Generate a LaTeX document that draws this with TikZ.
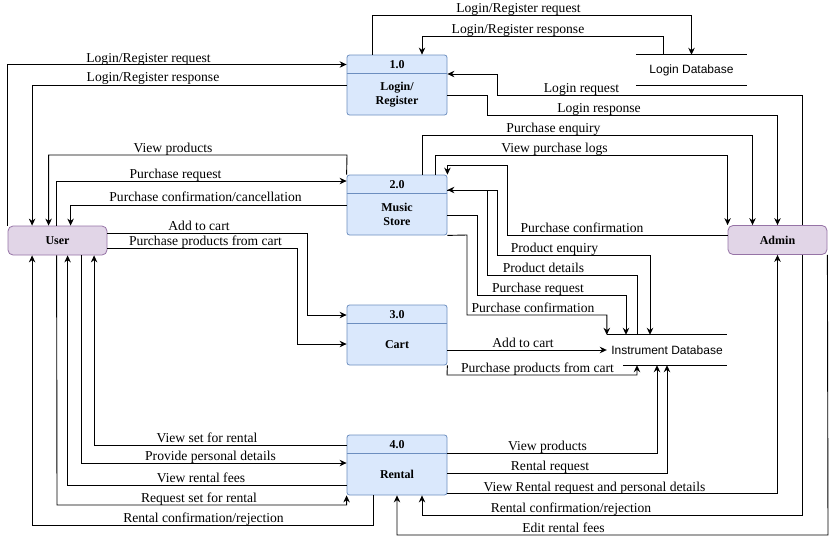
\documentclass[tikz,border=0pt]{standalone}
\usepackage{fontspec}
\setmainfont{Liberation Serif}
\newfontfamily\dbfont{Liberation Sans}
\usetikzlibrary{arrows.meta}

\definecolor{procfill}{HTML}{DAE8FC}
\definecolor{procline}{HTML}{6C8EBF}
\definecolor{extfill}{HTML}{E1D5E7}
\definecolor{extline}{HTML}{9673A6}

\begin{document}
\begin{tikzpicture}[x=1pt,y=-1pt]
	% Define styles for processes, entities, stores, flows and labels
	\tikzset{
		proc/.style={draw=procline, fill=procfill, rounded corners=2.5pt, minimum width=100pt, minimum height=60pt, inner sep=0pt, line width=0.8pt},
		ptitle/.style={font=\fontsize{12}{14}\selectfont\bfseries, inner sep=0pt},
		ptext/.style={font=\fontsize{12}{14}\selectfont\bfseries, align=center, inner sep=0pt},
		ext/.style={draw=extline, fill=extfill, rounded corners=5pt, minimum width=99pt, minimum height=29pt, inner sep=0pt, line width=0.8pt, font=\fontsize{12}{14}\selectfont\bfseries},
		store/.style={minimum height=30pt, inner sep=0pt, font=\dbfont\fontsize{12}{14}\selectfont},
		flow/.style={-{Stealth[length=7pt,width=6.5pt]}, line width=0.9pt},
		lab/.style={anchor=base, inner sep=0.5pt, font=\fontsize{13.6}{15}\selectfont}
	}
	\useasboundingbox (0,0) rectangle (836,544);
	
	% Draw the processes
	\node[proc] (p1) at (397,85) {};
	\node[proc] (p2) at (397,205) {};
	\node[proc] (p3) at (397,335) {};
	\node[proc] (p4) at (397,465) {};
	\foreach \p in {p1,p2,p3,p4}
		\draw[procline, line width=0.8pt] ([yshift=-19pt]\p.north west) -- ([yshift=-19pt]\p.north east);
	\node[ptitle] (p1t) at (397,64.5) {1.0};
	\node[ptitle] (p2t) at (397,184.5) {2.0};
	\node[ptitle] (p3t) at (397,314.5) {3.0};
	\node[ptitle] (p4t) at (397,444.5) {4.0};
	\node[ptext] (p1x) at (397,94.5) {Login/\\Register};
	\node[ptext] (p2x) at (397,214.5) {Music\\Store};
	\node[ptext] (p3x) at (397,344.5) {Cart};
	\node[ptext] (p4x) at (397,474.5) {Rental};
	
	% Draw the external entities
	\node[ext] (user) at (57.5,240.5) {User};
	\node[ext] (admin) at (777.5,240) {Admin};
	
	% Draw the data stores
	\node[store, minimum width=111pt] (ldb) at (691.5,70) {Login Database};
	\node[store, minimum width=120pt] (idb) at (667,350) {Instrument Database};
	\draw[line width=0.9pt] (ldb.north west) -- (ldb.north east) (ldb.south west) -- (ldb.south east);
	\draw[line width=0.9pt] (idb.north west) -- (idb.north east) ([xshift=16pt]idb.south west) -- (idb.south east);
	
	% Flows between login and login database
	\draw[flow] ([xshift=-25pt]p1.north) -- (372,15) -| (ldb.north);
	\draw[flow] ([xshift=-28.5pt]ldb.north) -- (663,36) -| ([xshift=25pt]p1.north);
	
	% Flows from and to the user (top and right)
	\draw[flow] (user.north west) |- (p1t -| p1.west);
	\draw[flow] (p1.west) -| ([xshift=24.5pt]user.north west);
	\draw[flow] (p2.north west) -- (347,155) -| ([xshift=41pt]user.north west);
	\draw[flow] ([xshift=49pt]user.north west) |- ([yshift=24pt]p2.west);
	\draw[flow] (p2.west) -| ([xshift=63pt]user.north west);
	\draw[flow] ([yshift=7.5pt]user.east) -- (307,233) |- ([yshift=20pt]p3.west);
	\draw[flow] ([yshift=-7.5pt]user.east) -- (297,248) |- ([yshift=-9pt]p3.west);
	
	% Flows from and to the user (bottom)
	\draw[flow] ([yshift=20pt]p4.west) -| ([xshift=86.5pt]user.south west);
	\draw[flow] ([xshift=74pt]user.south west) |- ([yshift=2pt]p4.west);
	\draw[flow] ([yshift=-20pt]p4.west) -| ([xshift=60pt]user.south west);
	\draw[flow] ([xshift=49pt]user.south west) -- (57,505) -| (p4.south west);
	\draw[flow] ([xshift=-24pt]p4.south) -- (373,525) -| ([xshift=24.5pt]user.south west);
	
	% Flows from and to the admin
	\draw[flow] ([xshift=25pt]admin.north) |- (497,95) |- ([yshift=11pt]p1.east);
	\draw[flow] ([yshift=-10pt]p1.east) -- (487,95) -- (487,115) -| (admin.north);
	\draw[flow] ([xshift=25pt]p2.north) -- (422,135) -| ([xshift=-25pt]admin.north);
	\draw[flow] ([xshift=38pt]p2.north) -- (435,155) -| (admin.north west);
	\draw[flow] ([yshift=5pt]admin.west) -| (507,165) -| (p2.north east);
	\draw[flow] ([yshift=-28pt]p4.east) -| (admin.south);
	\draw[flow] ([xshift=25pt]admin.south) -- (802.5,515) -| ([xshift=25pt]p4.south);
	\draw[flow] (admin.south east) -- (828,535) -| (p4.south);
	
	% Flows from and to the instrument database
	\draw[flow] ([yshift=15pt]p2.east) -- (497,190) |- (650,255) -- ([xshift=-17pt]idb.north);
	\draw[flow] ([xshift=-30pt]idb.north) |- (487,275) |- ([yshift=15pt]p2.east);
	\draw[flow] ([yshift=-10pt]p2.east) -- (477,215) -- (477,295) -| ([xshift=-41pt]idb.north);
	\draw[flow] (p2.south east) -- (467,235) -- (467,315) -| (idb.north west);
	\draw[flow] ([yshift=-15pt]p3.east) -- (idb.west);
	\draw[flow] (p3.south east) -- (447,375) -| ([xshift=-30pt]idb.south);
	\draw[flow] ([yshift=12pt]p4.east) -| ([xshift=-10pt]idb.south);
	\draw[flow] ([yshift=-8pt]p4.east) -| (idb.south);
	
	% Add labels
	\node[lab] (t1) at (518.5,12) {Login/Register request};
	\node[lab] (t2) at (518,33) {Login/Register response};
	\node[lab] (t3) at (148.5,62) {Login/Register request};
	\node[lab] (t4) at (153,81) {Login/Register response};
	\node[lab] (t5) at (173,152) {View products};
	\node[lab] (t6) at (175.5,178) {Purchase request};
	\node[lab] (t7) at (205.5,201) {Purchase confirmation/cancellation};
	\node[lab] (t8) at (199,230) {Add to cart};
	\node[lab] (t9) at (205.5,245) {Purchase products from cart};
	\node[lab] (t10) at (207,442) {View set for rental};
	\node[lab] (t11) at (210.5,460) {Provide personal details};
	\node[lab] (t12) at (201,482) {View rental fees};
	\node[lab] (t13) at (199,502) {Request set for rental};
	\node[lab] (t14) at (203.5,522) {Rental confirmation/rejection};
	\node[lab] (t15) at (547.5,450) {View products};
	\node[lab] (t16) at (550,470) {Rental request};
	\node[lab] (t17) at (594.5,491) {View Rental request and personal details};
	\node[lab] (t18) at (571,512) {Rental confirmation/rejection};
	\node[lab] (t19) at (563.5,532) {Edit rental fees};
	\node[lab] (t20) at (553.5,132) {Purchase enquiry};
	\node[lab] (t21) at (554.5,152) {View purchase logs};
	\node[lab] (t22) at (582,232) {Purchase confirmation};
	\node[lab] (t23) at (554.5,252) {Product enquiry};
	\node[lab] (t24) at (543.5,272) {Product details};
	\node[lab] (t25) at (538,292) {Purchase request};
	\node[lab] (t26) at (533,312) {Purchase confirmation};
	\node[lab] (t27) at (523,347) {Add to cart};
	\node[lab] (t28) at (537.5,372) {Purchase products from cart};
	\node[lab] (t29) at (581.5,92) {Login request};
	\node[lab] (t30) at (599,112) {Login response};
\end{tikzpicture}
\end{document}
